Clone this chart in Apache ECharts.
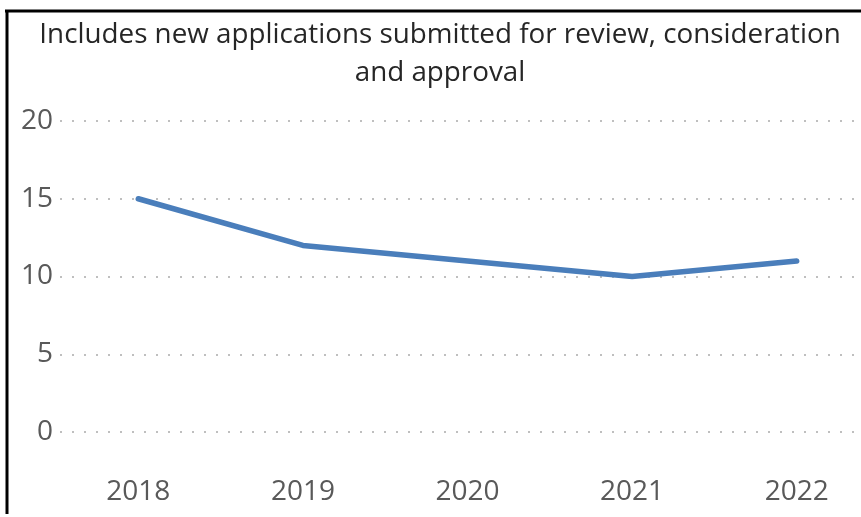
<!DOCTYPE html>
<html><head><meta charset="utf-8">
<script src="https://cdn.jsdelivr.net/npm/echarts@6/dist/echarts.min.js"></script>
<style>html,body{margin:0;padding:0;background:#fff}#c{width:861px;height:517px}</style>
</head><body><div id="c"></div>
<script>
const titleText = "Includes new applications submitted for review, consideration\nand approval";
const years = ["2018", "2019", "2020", "2021", "2022"];
const values = [15, 12, 11, 10, 11];
const yTicks = [0, 5, 10, 15, 20];

const chart = echarts.init(document.getElementById('c'));
chart.setOption({
  animation: false,
  backgroundColor: '#fff',
  title: {
    text: titleText, left: 435, top: 11, textAlign: 'center',
    textStyle: { fontFamily: 'Open Sans', fontSize: 27.8, fontWeight: 'normal', color: '#262626', lineHeight: 38 }
  },
  graphic: [
    { type: 'line', shape: { x1: 5, y1: 11, x2: 861, y2: 11 }, style: { stroke: '#000', lineWidth: 3 } },
    { type: 'line', shape: { x1: 7, y1: 10, x2: 7, y2: 514 }, style: { stroke: '#000', lineWidth: 3 } }
  ],
  grid: { left: 56, top: 121, width: 823, height: 311, outerBoundsMode: 'none', containLabel: false },
  xAxis: {
    type: 'category', data: years, boundaryGap: true,
    axisLine: { show: false }, axisTick: { show: false },
    axisLabel: { margin: 46, fontFamily: 'Open Sans', fontSize: 28, color: '#595959' }
  },
  yAxis: {
    type: 'value', min: yTicks[0], max: yTicks[yTicks.length - 1], interval: 5,
    axisLine: { show: false }, axisTick: { show: false },
    axisLabel: { margin: 3, fontFamily: 'Open Sans', fontSize: 28, color: '#595959' },
    splitLine: { lineStyle: { color: '#bfbfbf', width: 2, type: [2, 10], dashOffset: 20 } }
  },
  series: [{
    type: 'line', data: values, symbol: 'none',
    lineStyle: { color: '#4a7ebb', width: 5.5, cap: 'round', join: 'round' }
  }]
});
</script></body></html>
